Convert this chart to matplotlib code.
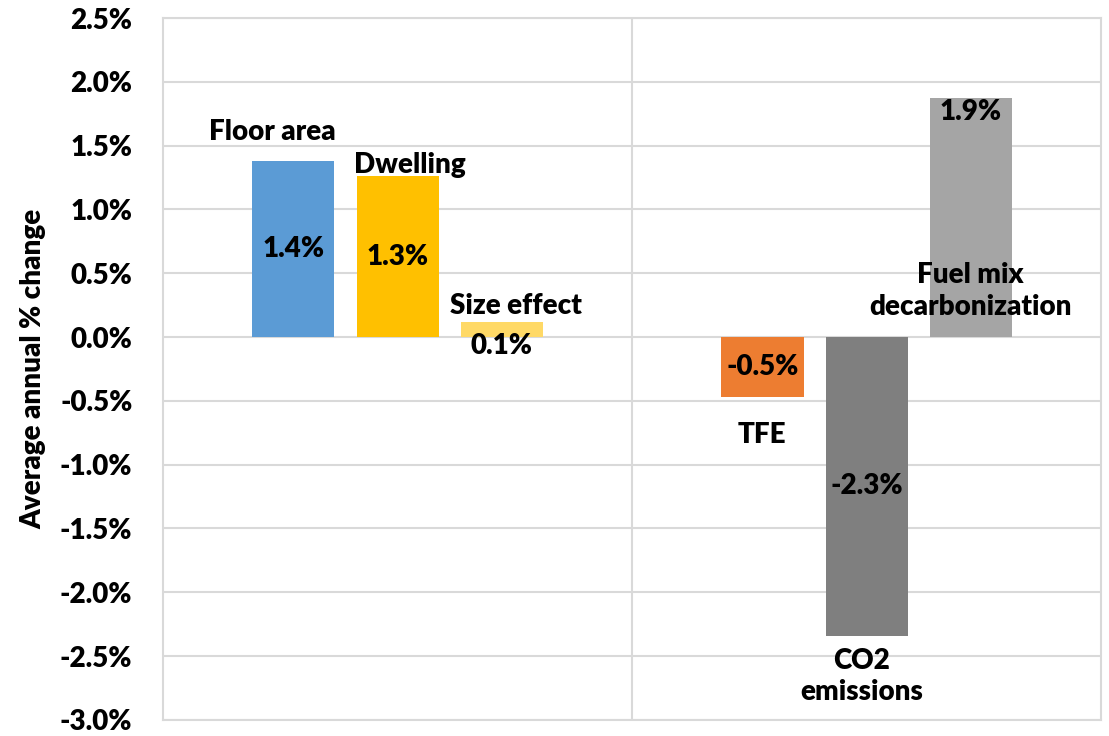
#!/usr/bin/env python3
# -*- coding=utf-8 -*-

import numpy as np
import matplotlib
matplotlib.use('Agg')
import matplotlib.pyplot as plt
from matplotlib.ticker import FuncFormatter

# data, in percent per year
groups = ['activity', 'emissions']
names = [['Floor area', 'Dwelling', 'Size effect'],
         ['TFE', 'CO2\nemissions', 'Fuel mix\ndecarbonization']]
values = [[1.38, 1.26, 0.12],
          [-0.47, -2.34, 1.87]]
labels = [['1.4%', '1.3%', '0.1%'],
          ['-0.5%', '-2.3%', '1.9%']]
colors = [['#5b9bd5', '#ffc000', '#ffd966'],
          ['#ed7d31', '#7f7f7f', '#a5a5a5']]

# where the name / value texts sit: (x offset from bar centre, y in %)
name_pos = [[(-0.046, 1.61), (0.027, 1.35), (0.031, 0.24)],
            [(-0.002, -0.77), (-0.01, -2.66), (-0.001, 0.36)]]
value_y = [[None, None, -0.07], [None, None, 1.76]]

plt.rcParams['font.family'] = ['Lato', 'DejaVu Sans']
plt.rcParams['font.weight'] = 'heavy'
fsize = 20

fig = plt.figure(figsize=(11.09, 7.36), dpi=100)
ax = fig.add_axes([0.147, 0.022, 0.846, 0.9535])

offsets = np.array([-0.222, 0.0, 0.222])
width = 0.175
for g in range(len(groups)):
    x = g + offsets
    ax.bar(x, values[g], width=width, color=colors[g], zorder=3)
    for i in range(len(x)):
        v = values[g][i]
        vy = value_y[g][i] if value_y[g][i] is not None else v / 2
        ax.text(x[i], vy, labels[g][i], ha='center', va='center',
                fontsize=fsize, fontweight='heavy', color='black', zorder=4)
        dx, ny = name_pos[g][i]
        ax.text(x[i] + dx, ny, names[g][i], ha='center', va='center',
                fontsize=fsize, fontweight='heavy', color='black',
                linespacing=1.25, zorder=4)

ax.set_xlim(-0.5, 1.5)
ax.set_ylim(-3.0, 2.5)
ax.set_yticks(np.arange(-3.0, 2.51, 0.5))
ax.yaxis.set_major_formatter(FuncFormatter(lambda v, p: '%.1f%%' % v))
ax.set_xticks([])
ax.tick_params(axis='y', length=0, labelsize=fsize, pad=22)
for t in ax.get_yticklabels():
    t.set_fontweight('heavy')

# gridlines like the spreadsheet: light gray, divider between the groups
ax.grid(axis='y', color='#d9d9d9', linewidth=1.5, zorder=0)
ax.axvline(0.5, color='#d9d9d9', linewidth=1.5, zorder=0)
for s in ax.spines.values():
    s.set_color('#d9d9d9')
    s.set_linewidth(1.5)

ax.set_ylabel('Average annual % change', fontsize=20, fontweight='heavy',
              labelpad=10)

fig.savefig('out.png', dpi=100)
